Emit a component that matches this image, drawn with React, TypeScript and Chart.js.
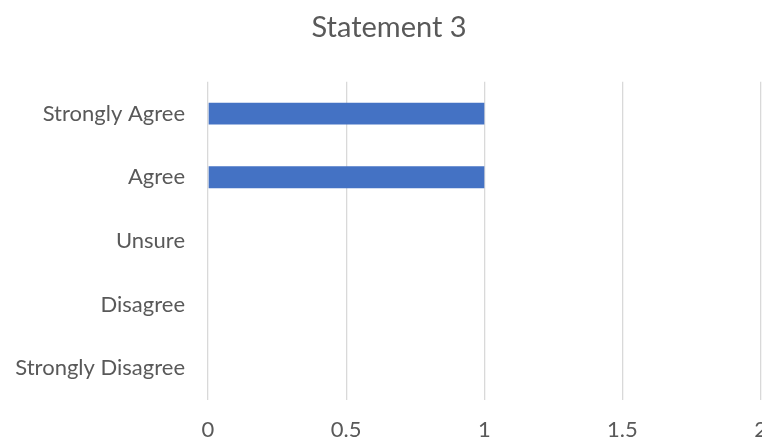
import React, { useEffect, useRef } from "react";
import { Chart, registerables } from "chart.js";

Chart.register(...registerables);

const categories = ["Strongly Agree", "Agree", "Unsure", "Disagree", "Strongly Disagree"];
const values = [1, 1, 0, 0, 0];
const chartTitle = "Statement 3";
const xMin = 0;
const xMax = 2;
const xStep = 0.5;

const FONT = "Lato, 'Liberation Sans', sans-serif";
const TEXT = "#595959";
const GRID = "#d9d9d9";

export default function App() {
  const ref = useRef<HTMLCanvasElement | null>(null);

  useEffect(() => {
    document.body.style.margin = "0";
    const canvas = ref.current;
    if (!canvas) return;
    const chart = new Chart(canvas, {
      type: "bar",
      data: {
        labels: categories,
        datasets: [
          {
            label: chartTitle,
            data: values,
            backgroundColor: "#4472C4",
            borderWidth: 0,
            barPercentage: 0.345,
            categoryPercentage: 1,
          },
        ],
      },
      options: {
        indexAxis: "y",
        animation: false,
        responsive: false,
        maintainAspectRatio: false,
        layout: { padding: { left: 0, right: 6, top: 0, bottom: 0 } },
        plugins: {
          legend: { display: false },
          tooltip: { enabled: false },
          title: {
            display: true,
            text: chartTitle,
            color: TEXT,
            font: { family: FONT, size: 29, weight: "normal" },
            padding: { top: 10, bottom: 37 },
          },
        },
        scales: {
          x: {
            min: xMin,
            max: xMax,
            ticks: {
              stepSize: xStep,
              color: TEXT,
              font: { family: FONT, size: 22 },
              padding: 17,
              callback: (v: any) => String(v),
            },
            grid: { color: GRID, lineWidth: 1.3, drawTicks: false },
            border: { display: false },
            afterFit: (s: any) => {
              s.height = 40;
            },
          },
          y: {
            ticks: {
              color: TEXT,
              font: { family: FONT, size: 22 },
              padding: 23,
            },
            grid: { display: false, drawTicks: false },
            border: { display: false },
            afterFit: (s: any) => {
              s.width = 208;
            },
          },
        },
      },
    });
    return () => chart.destroy();
  }, []);

  return (
    <div style={{ position: "relative", width: 762, height: 440, overflow: "hidden", background: "#fff" }}>
      <canvas ref={ref} width={784} height={440} style={{ display: "block", width: 784, height: 440 }} />
    </div>
  );
}
